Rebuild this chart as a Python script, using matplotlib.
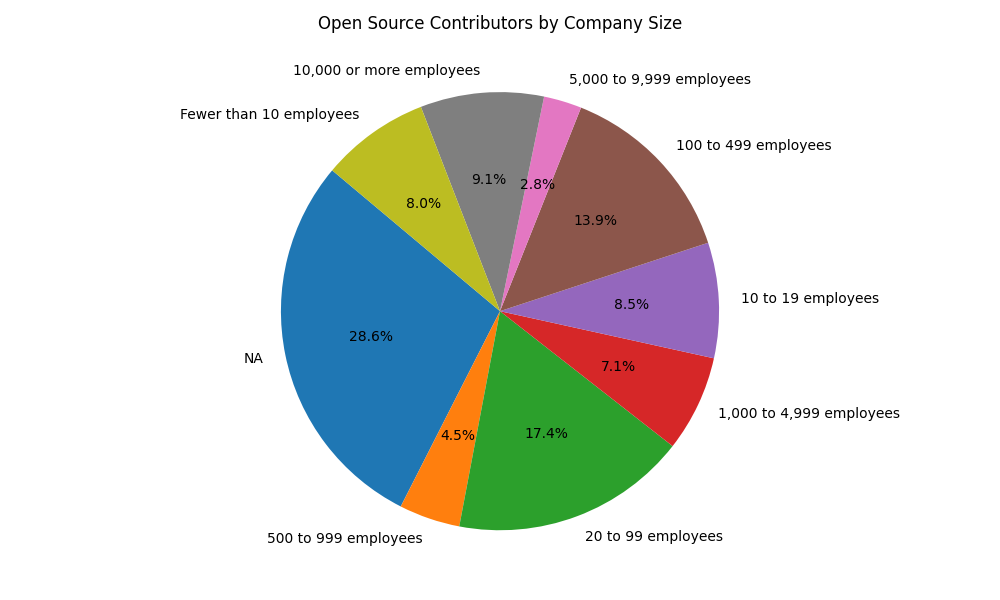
import matplotlib
matplotlib.use('Agg')
import matplotlib.pyplot as plt

labels = ['NA', '500 to 999 employees', '20 to 99 employees', '1,000 to 4,999 employees',
          '10 to 19 employees', '100 to 499 employees', '5,000 to 9,999 employees',
          '10,000 or more employees', 'Fewer than 10 employees']
shares = [28.6, 4.5, 17.4, 7.1, 8.5, 13.9, 2.8, 9.1, 8.0]

plt.figure(figsize=(10, 6), dpi=100)
plt.pie(shares, labels=labels, autopct='%1.1f%%', startangle=140)
plt.title('Open Source Contributors by Company Size')
plt.tight_layout()
plt.savefig('out.png')
